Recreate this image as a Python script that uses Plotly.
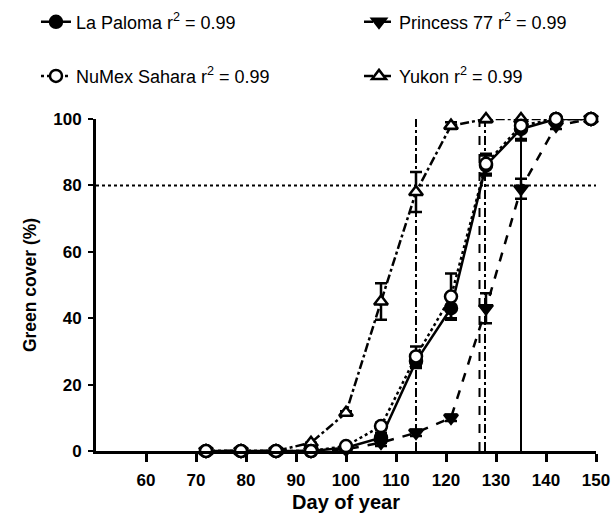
import plotly.graph_objects as go

days = [72, 79, 86, 93, 100, 107, 114, 121, 128, 135, 142, 149]

la_paloma = [0, 0, 0, 0, 1, 4, 27, 43, 86, 97, 100, 100]
la_paloma_err = [0, 0, 0, 0, 0.5, 1.5, 2, 3, 3, 3, 0, 0]

numex = [0, 0, 0, 0, 1.5, 7.5, 28.5, 46.5, 86.5, 98, 100, 100]
numex_err = [0, 0, 0, 0, 0.5, 1, 3, 7, 3, 4.5, 0, 0]

princess = [0, 0, 0, 0, 0.5, 2.5, 5.5, 10, 43, 79, 98, 100]
princess_err = [0, 0, 0, 0, 0, 1, 1, 1, 4.5, 3, 1, 0]

yukon = [0, 0, 0, 2.5, 11.5, 45, 78, 98, 100, 100, 100, 100]
yukon_err = [0, 0, 0, 0, 0.5, 5.5, 6, 1, 1, 0, 0, 0]

names = ["La Paloma r<sup>2</sup> = 0.99", "NuMex Sahara r<sup>2</sup> = 0.99",
         "Princess 77 r<sup>2</sup> = 0.99", "Yukon r<sup>2</sup> = 0.99"]

# reference lines: day at which 80% cover was reached, and the 80% threshold
ref_days = [114, 126.7, 127.8, 135]
ref_dash = ["dashdot", "dash", "dashdot", "solid"]
threshold = 80

x_ticks = [60, 70, 80, 90, 100, 110, 120, 130, 140, 150]
y_ticks = [0, 20, 40, 60, 80, 100]

fig = go.Figure()

def add(y, err, name, symbol, fill, dash, legend):
    fig.add_trace(go.Scatter(
        x=days, y=y, name=name, mode="lines+markers", legend=legend,
        line=dict(color="black", width=2.5, dash=dash),
        marker=dict(symbol=symbol, size=12, color=fill,
                    line=dict(color="black", width=2.5)),
        error_y=dict(type="data", array=err, visible=True, color="black",
                     thickness=2.5, width=6),
        cliponaxis=False,
    ))

add(princess, princess_err, names[2], "triangle-down", "black", "dash", "legend2")
add(yukon, yukon_err, names[3], "triangle-up", "white", "dashdot", "legend4")
add(la_paloma, la_paloma_err, names[0], "circle", "black", "solid", "legend")
add(numex, numex_err, names[1], "circle", "white", "dot", "legend3")

for d, ds in zip(ref_days, ref_dash):
    fig.add_shape(type="line", x0=d, x1=d, y0=0, y1=100, xref="x", yref="y",
                  line=dict(color="black", width=2, dash=ds), layer="below")
fig.add_shape(type="line", x0=50, x1=150, y0=threshold, y1=threshold,
              xref="x", yref="y", line=dict(color="black", width=2, dash="dot"),
              layer="below")

font = "Liberation Sans, Arial, sans-serif"
leg = dict(orientation="h", xanchor="left", yanchor="top", itemwidth=30,
           xref="container", yref="container",
           font=dict(family=font, size=18, color="black"),
           bgcolor="rgba(0,0,0,0)")

fig.update_layout(
    width=614, height=515,
    margin=dict(l=96, r=18, t=119, b=64, autoexpand=False),
    paper_bgcolor="white", plot_bgcolor="white",
    font=dict(family=font, color="black"),
    legend=dict(leg, x=0.0586, y=0.993),
    legend2=dict(leg, x=0.5847, y=0.993),
    legend3=dict(leg, x=0.0586, y=0.888),
    legend4=dict(leg, x=0.5847, y=0.888),
    xaxis=dict(range=[50, 150], tickvals=x_ticks, showgrid=False, zeroline=False,
               showline=True, linecolor="black", linewidth=3, automargin=False,
               ticks="outside", ticklen=8, tickwidth=3, tickcolor="black",
               ticklabelstandoff=4,
               tickfont=dict(family=font, size=17, color="black", weight="bold"),
               title=dict(text="<b>Day of year</b>", font=dict(size=20), standoff=6)),
    yaxis=dict(range=[0, 100], tickvals=y_ticks, showgrid=False, zeroline=False,
               showline=True, linecolor="black", linewidth=3, automargin=False,
               ticks="outside", ticklen=5, tickwidth=2, tickcolor="black",
               ticklabelstandoff=3,
               tickfont=dict(family=font, size=17, color="black", weight="bold"),
               title=dict(text="<b>Green cover (%)</b>", font=dict(size=17.5), standoff=13)),
    showlegend=True,
)

fig.write_html("out.html")
